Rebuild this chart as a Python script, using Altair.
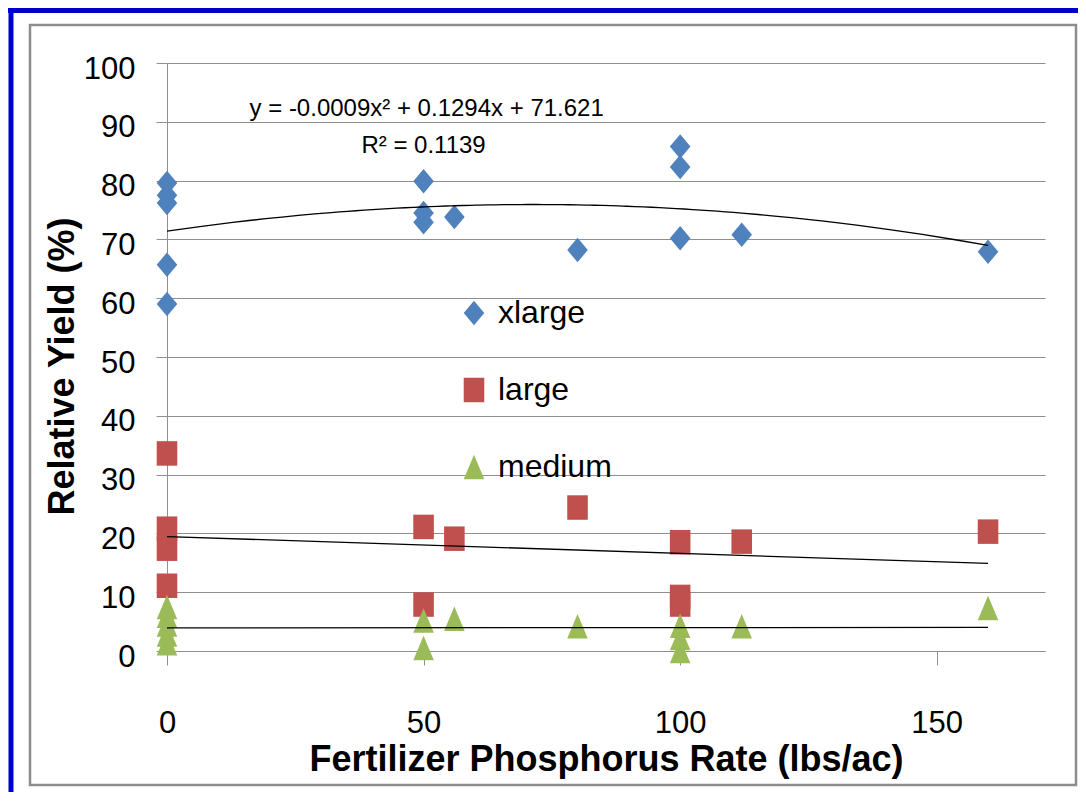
import altair as alt
import pandas as pd

# ---------------- data ----------------
series_names = ["xlarge", "large", "medium"]

xlarge_x = [0, 0, 0, 0, 0, 50, 50, 50, 56, 80, 100, 100, 100, 112, 160]
xlarge_y = [79.6, 77.5, 76.2, 65.7, 59.0, 79.9, 74.5, 72.9, 73.8, 68.2, 85.8, 82.3, 70.2, 70.8, 67.9]

large_x = [0, 0, 0, 0, 50, 50, 56, 80, 100, 100, 100, 112, 160]
large_y = [33.6, 20.8, 17.4, 11.1, 21.1, 7.9, 19.1, 24.4, 18.5, 9.2, 7.9, 18.6, 20.3]

medium_x = [0, 0, 0, 0, 0, 50, 50, 56, 80, 100, 100, 100, 112, 160]
medium_y = [7.5, 6.0, 4.5, 2.8, 1.3, 5.2, 0.5, 5.5, 4.2, 4.3, 2.2, 0.0, 4.2, 7.3]

x_ticks = [0, 50, 100, 150]
y_ticks = [0, 10, 20, 30, 40, 50, 60, 70, 80, 90, 100]

ann_labels = ["y = -0.0009x\u00b2 + 0.1294x + 71.621", "R\u00b2 = 0.1139"]
ann_x = [50.6, 50.0]
ann_y = [92.1, 85.9]

colors = ["#4F81BD", "#C0504D", "#9BBB59"]
shapes = [
    "M0,-1L0.84,0L0,1L-0.84,0Z",
    "M-0.84,-1L0.84,-1L0.84,1L-0.84,1Z",
    "M0,-1L0.84,1L-0.84,1Z",
]

rows = []
for name, xs, ys in [("xlarge", xlarge_x, xlarge_y),
                     ("large", large_x, large_y),
                     ("medium", medium_x, medium_y)]:
    for xv, yv in zip(xs, ys):
        rows.append({"series": name, "rate": xv, "yield": yv})
df = pd.DataFrame(rows)
ann = pd.DataFrame({"label": ann_labels, "rate": ann_x, "yield": ann_y})

GRID = "#8f8f8f"
FONT = "Liberation Sans"

x_scale = alt.Scale(domain=[0, 171.1], nice=False, zero=False)
y_scale = alt.Scale(domain=[0, 100], nice=False)

x_axis = alt.Axis(
    title="Fertilizer Phosphorus Rate (lbs/ac)", values=x_ticks, grid=False,
    tickSize=14, tickColor=GRID, domainColor=GRID, domainWidth=1,
    labelFont=FONT, labelFontSize=31, labelColor="black", labelPadding=43,
    labelFlush=False, labelOverlap=False,
    titleFont=FONT, titleFontSize=36, titleFontWeight="bold", titleColor="black",
    titleX=439, titleY=119, titleAlign="center", titleBaseline="alphabetic",
)
y_axis = alt.Axis(
    title="Relative Yield (%)", values=y_ticks, grid=True, gridColor=GRID, gridWidth=1,
    tickSize=11, tickColor=GRID, domainColor=GRID, domainWidth=1,
    labelFont=FONT, labelFontSize=31, labelColor="black", labelPadding=21,
    labelOffset=6, labelFlush=False, labelOverlap=False,
    titleFont=FONT, titleFontSize=36, titleFontWeight="bold", titleColor="black",
    titleAngle=-90, titleX=-94, titleY=303, titleAlign="center", titleBaseline="alphabetic",
)

legend = alt.Legend(
    title=None, orient="none", legendX=291, legendY=234, padding=0,
    labelFont=FONT, labelFontSize=32, labelColor="black", labelOffset=8,
    symbolSize=600, symbolStrokeWidth=0, symbolOpacity=1, rowPadding=45,
)

X = alt.X("rate:Q", scale=x_scale, axis=x_axis)
Y = alt.Y("yield:Q", scale=y_scale, axis=y_axis)

# decorative slide frame
one = pd.DataFrame({"k": [0]})
frame = alt.Chart(one).mark_rect(fill="transparent", stroke="#8c8c8c", strokeWidth=2.5).encode(
    x=alt.value(-137), x2=alt.value(909), y=alt.value(-38), y2=alt.value(722)
)
blue_top = alt.Chart(one).mark_rule(color="#0000CC", strokeWidth=5).encode(
    x=alt.value(-159), x2=alt.value(911), y=alt.value(-52.5)
)
blue_left = alt.Chart(one).mark_rule(color="#0000CC", strokeWidth=5).encode(
    x=alt.value(-156), y=alt.value(-55), y2=alt.value(729)
)

points = alt.Chart(df).mark_point(filled=True, size=600, opacity=1, strokeWidth=0).encode(
    x=X, y=Y,
    color=alt.Color("series:N", scale=alt.Scale(domain=series_names, range=colors), legend=legend),
    shape=alt.Shape("series:N", scale=alt.Scale(domain=series_names, range=shapes), legend=legend),
)

trend_xl = alt.Chart(df).transform_filter(alt.datum.series == "xlarge").transform_regression(
    "rate", "yield", method="poly", order=2
).mark_line(color="black", strokeWidth=1.3).encode(x=X, y=Y)

trend_l = alt.Chart(df).transform_filter(alt.datum.series == "large").transform_regression(
    "rate", "yield", method="linear"
).mark_line(color="black", strokeWidth=1.3).encode(x=X, y=Y)

trend_m = alt.Chart(df).transform_filter(alt.datum.series == "medium").transform_regression(
    "rate", "yield", method="linear"
).mark_line(color="black", strokeWidth=1.3).encode(x=X, y=Y)

texts = alt.Chart(ann).mark_text(font=FONT, fontSize=24, color="black", align="center", baseline="middle").encode(
    x=alt.X("rate:Q", scale=x_scale, axis=x_axis),
    y=alt.Y("yield:Q", scale=y_scale, axis=y_axis),
    text="label:N",
)

chart = alt.layer(frame, blue_top, blue_left, points, trend_xl, trend_l, trend_m, texts).properties(
    width=878, height=588,
    autosize=alt.AutoSizeParams(type="none"),
    padding={"left": 159, "top": 55, "right": 33, "bottom": 141},
    background="white",
).configure_view(stroke="transparent")

chart.save("out.html", embed_options={"renderer": "svg", "actions": False})
